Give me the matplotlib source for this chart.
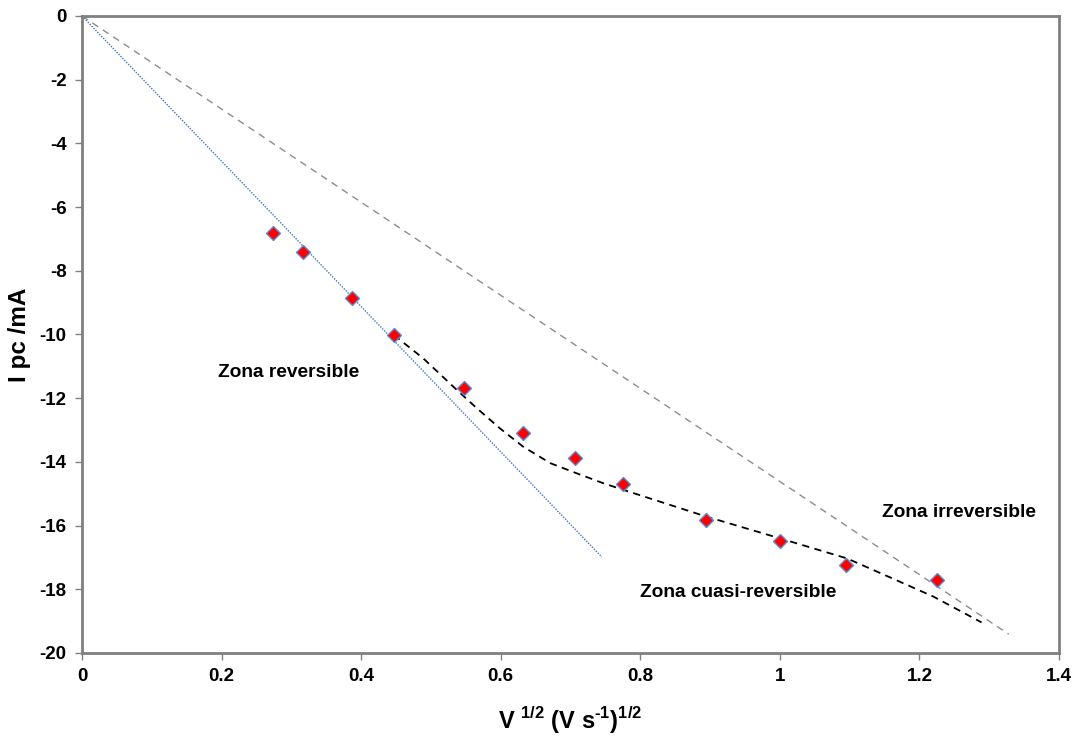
import matplotlib
matplotlib.use("Agg")
import matplotlib.pyplot as plt
from matplotlib.ticker import FuncFormatter

plt.rcParams['font.family'] = ['Liberation Sans', 'DejaVu Sans']
plt.rcParams['mathtext.fontset'] = 'custom'
plt.rcParams['mathtext.rm'] = 'Liberation Sans:bold'
plt.rcParams['mathtext.bf'] = 'Liberation Sans:bold'

# measured peaks: sqrt(scan rate) vs cathodic peak current
v_sqrt = [0.274, 0.316, 0.387, 0.447, 0.548, 0.632, 0.707, 0.775, 0.894, 1.0, 1.095, 1.225]
ipc = [-6.82, -7.40, -8.86, -10.02, -11.67, -13.08, -13.88, -14.70, -15.82, -16.47, -17.24, -17.71]

# reversible limit (blue dotted) and irreversible limit (grey dashed)
rev_x = [0.0, 0.745]
rev_y = [0.0, -16.99]
irr_x = [0.0, 1.328]
irr_y = [0.0, -19.41]

# quasi-reversible trend (black dashed)
quasi_x = [0.447, 0.489, 0.537, 0.566, 0.599, 0.632, 0.671, 0.709, 0.747, 0.776, 0.80,
           0.895, 1.0, 1.096, 1.15, 1.22, 1.289]
quasi_y = [-10.02, -10.75, -11.74, -12.32, -12.95, -13.52, -14.04, -14.36, -14.67, -14.88, -15.05,
           -15.72, -16.40, -17.03, -17.55, -18.23, -19.04]

fig = plt.figure(figsize=(10.79, 7.37), dpi=100)
ax = fig.add_axes([0.076, 0.114, 0.9055, 0.8643])

ax.plot(rev_x, rev_y, linestyle=(0, (1, 1)), color="#4472C4", linewidth=1.0)
ax.plot(irr_x, irr_y, linestyle=(0, (5, 4)), color="#8C8C8C", linewidth=1.0)
ax.plot(quasi_x, quasi_y, linestyle=(0, (4, 3)), color="black", linewidth=1.3)
ax.plot(v_sqrt, ipc, linestyle="none", marker="D", markersize=7.5,
        markerfacecolor="red", markeredgecolor="#5B8CD0", markeredgewidth=1.0, zorder=5)

ax.text(0.195, -11.2, "Zona reversible", fontsize=13.8, fontweight="bold", va="center")
ax.text(0.8, -18.09, "Zona cuasi-reversible", fontsize=13.8, fontweight="bold", va="center")
ax.text(1.147, -15.6, "Zona irreversible", fontsize=13.8, fontweight="bold", va="center")

ax.set_xlim(0, 1.4)
ax.set_ylim(-20, 0)
ax.set_xticks([0, 0.2, 0.4, 0.6, 0.8, 1.0, 1.2, 1.4])
ax.set_yticks(range(-20, 1, 2))
ax.xaxis.set_major_formatter(FuncFormatter(lambda v, p: "%g" % v))
ax.yaxis.set_major_formatter(FuncFormatter(lambda v, p: "%g" % v))
for lab in ax.get_xticklabels() + ax.get_yticklabels():
    lab.set_fontweight("bold")
    lab.set_fontsize(13.5)

for s in ax.spines.values():
    s.set_color("#808080")
    s.set_linewidth(2)
ax.tick_params(direction="out", length=5, width=1, color="#808080", pad=6)

ax.set_xlabel(r"V $^{\text{1/2}}$ (V s$^{\text{-1}}$)$^{\text{1/2}}$",
              fontsize=17, fontweight="bold", labelpad=14)
ax.set_ylabel("I pc /mA", fontsize=17.5, fontweight="bold", labelpad=6)

fig.savefig("out.png", dpi=100)
